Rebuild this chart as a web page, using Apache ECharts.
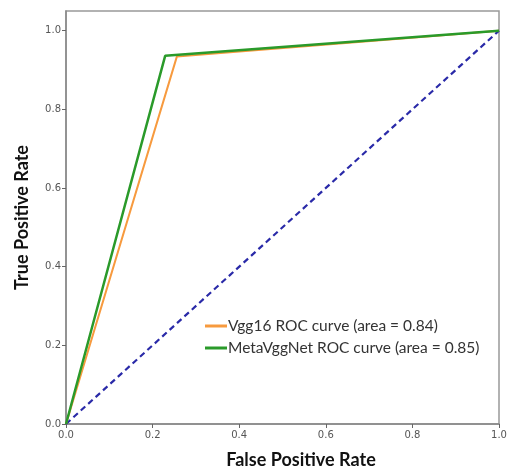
<!DOCTYPE html>
<html><head><meta charset="utf-8">
<script src="https://cdn.jsdelivr.net/npm/echarts@6/dist/echarts.min.js"></script>
<style>html,body{margin:0;padding:0;background:#fff}#c{width:508px;height:470px}</style>
</head><body><div id="c"></div>
<script>
const vggFpr = [0, 0.256, 1];
const vggTpr = [0, 0.934, 1];
const metaFpr = [0, 0.229, 1];
const metaTpr = [0, 0.936, 1];
const diagFpr = [0, 1];
const diagTpr = [0, 1];
const tickValues = [0, 0.2, 0.4, 0.6, 0.8, 1.0];
const seriesNames = ['Vgg16 ROC curve (area = 0.84)', 'MetaVggNet ROC curve (area = 0.85)'];

const zip = (a, b) => a.map((v, i) => [v, b[i]]);
const chart = echarts.init(document.getElementById('c'), null, {renderer: 'canvas'});
const axisCommon = {
  type: 'value', min: 0,
  axisLine: {show: true, lineStyle: {color: '#888', width: 1.5}},
  axisTick: {show: true, length: 4, lineStyle: {color: '#666'}, customValues: tickValues},
  axisLabel: {color: '#555', fontSize: 10, fontFamily: 'DejaVu Sans', customValues: tickValues,
    formatter: v => v.toFixed(1)},
  splitLine: {show: false},
  nameLocation: 'middle',
  nameTextStyle: {fontFamily: 'Lato', fontWeight: 'bold', fontSize: 18, color: '#111'}
};
chart.setOption({
  animation: false,
  grid: {left: 66, right: 9, top: 11, bottom: 46, show: true, borderColor: '#999', borderWidth: 1.5,
    outerBoundsMode: 'none', containLabel: false},
  xAxis: Object.assign({}, axisCommon, {max: 1, name: 'False Positive Rate', nameGap: 27,
    nameTextStyle: Object.assign({}, axisCommon.nameTextStyle, {padding: [0, 0, 0, 37]}),
    axisLabel: Object.assign({}, axisCommon.axisLabel, {margin: 6})}),
  yAxis: Object.assign({}, axisCommon, {max: 1.05, name: 'True Positive Rate', nameGap: 35,
    axisLabel: Object.assign({}, axisCommon.axisLabel, {margin: 5})}),
  legend: {
    orient: 'vertical', left: 200, top: 313, itemGap: 6,
    icon: 'rect', itemWidth: 22, itemHeight: 3,
    data: seriesNames,
    textStyle: {fontFamily: 'Lato', fontSize: 15.5, color: '#333', padding: [0, 0, 0, -4]}
  },
  series: [
    {name: 'chance', type: 'line', data: zip(diagFpr, diagTpr), symbol: 'none',
      lineStyle: {color: '#2a2aa8', width: 2.2, type: [6, 4]}, z: 1},
    {name: seriesNames[0], type: 'line', data: zip(vggFpr, vggTpr), symbol: 'none',
      lineStyle: {color: '#f79a3e', width: 2}, itemStyle: {color: '#f79a3e'}, z: 2},
    {name: seriesNames[1], type: 'line', data: zip(metaFpr, metaTpr), symbol: 'none',
      lineStyle: {color: '#2a9a2a', width: 2.5}, itemStyle: {color: '#2a9a2a'}, z: 3}
  ]
});
</script></body></html>
